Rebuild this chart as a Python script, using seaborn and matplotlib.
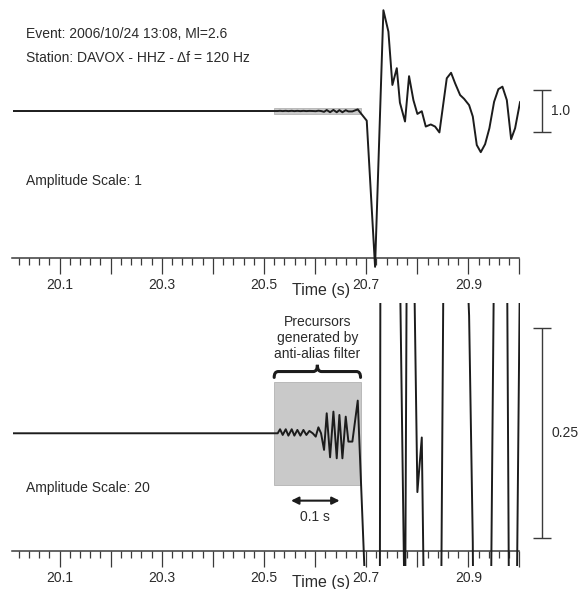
import numpy as np
import pandas as pd
import matplotlib.pyplot as plt
import seaborn as sns
from matplotlib.patches import Rectangle
from matplotlib.path import Path
from matplotlib.patches import PathPatch
from matplotlib.ticker import FixedLocator, FixedFormatter

# tempo (s) e amplitude
t_inicio = [20.008, 20.5269]
amp_inicio = [0.0, 0.0]

t_precursor = [20.5315, 20.5367, 20.5426, 20.5478, 20.5543, 20.5595, 20.5654, 20.5713,
               20.5772, 20.5830, 20.5889, 20.5954, 20.6013, 20.6065, 20.6117, 20.6176,
               20.6228, 20.6294, 20.6359, 20.6424, 20.6476, 20.6535, 20.6600, 20.6652,
               20.6730, 20.6835]
amp_precursor = [0.0048, -0.0020, 0.0048, -0.0028, 0.0048, -0.0028, 0.0040, -0.0028,
                 0.0040, -0.0020, 0.0028, 0.0, -0.0040, 0.0071, 0.0, -0.0198,
                 0.0238, -0.0286, 0.0258, -0.0298, 0.0218, -0.0298, 0.0198, -0.0099,
                 -0.0099, 0.0389]

t_sinal = [20.7011, 20.7174, 20.7337, 20.7435, 20.7513, 20.7599, 20.7660, 20.7760,
           20.7839, 20.7924, 20.8002, 20.8088, 20.8166, 20.8264, 20.8348, 20.8433,
           20.8577, 20.8661, 20.8740, 20.8838, 20.8916, 20.9014, 20.9086, 20.9164,
           20.9242, 20.9327, 20.9411, 20.9503, 20.9587, 20.9666, 20.9752, 20.9836,
           20.9914, 21.0012]
amp_sinal = [-0.23, -3.71, 2.40, 1.89, 0.62, 1.02, 0.20, -0.25,
             0.83, 0.26, -0.07, -0.005, -0.37, -0.32, -0.37, -0.51,
             0.78, 0.91, 0.66, 0.38, 0.29, 0.14, -0.13, -0.81,
             -0.98, -0.79, -0.41, 0.22, 0.52, 0.58, 0.26, -0.67,
             -0.41, 0.22]

ticks_maiores = [20.1, 20.2, 20.3, 20.4, 20.5, 20.6, 20.7, 20.8, 20.9, 21.0]
rotulos_ticks = ['20.1', '', '20.3', '', '20.5', '', '20.7', '', '20.9', '']
ticks_menores = [20.02, 20.04, 20.06, 20.08, 20.12, 20.14, 20.16, 20.18, 20.22, 20.24,
                 20.26, 20.28, 20.32, 20.34, 20.36, 20.38, 20.42, 20.44, 20.46, 20.48,
                 20.52, 20.54, 20.56, 20.58, 20.62, 20.64, 20.66, 20.68, 20.72, 20.74,
                 20.76, 20.78, 20.82, 20.84, 20.86, 20.88, 20.92, 20.94, 20.96, 20.98]

caixa_t = (20.520, 20.689)
caixa_amp = (-0.0615, 0.0615)

df = pd.DataFrame({
    'tempo': t_inicio + t_precursor + t_sinal,
    'amp': amp_inicio + amp_precursor + amp_sinal,
})

sns.set_style('white')
plt.rcParams['font.family'] = ['Liberation Sans', 'DejaVu Sans']
cor_linha = '#1c1c1c'
cor_texto = '#2b2b2b'
cor_eixo = '#3a3a3a'

W, H = 580, 589
fig = plt.figure(figsize=(5.8, 5.89), dpi=100)
# eixos definidos em pixels (esquerda, topo, largura, altura)
def eixo_px(x0, y0, w, h):
    return fig.add_axes([x0 / W, 1 - (y0 + h) / H, w / W, h / H])

ax_top = eixo_px(12.5, 0, 507, 272)
ax_bot = eixo_px(12.5, 303, 507, 263)

configs = [
    (ax_top, (-3.833, 2.643), -3.488, 0.5, '1.0', -4.262),
    (ax_bot, (-0.158, 0.1551), -0.1401, 0.125, '0.25', -0.1782),
]

for ax, ylim, y_eixo, meia_barra, rot_barra, y_time in configs:
    ax.add_patch(Rectangle((caixa_t[0], caixa_amp[0]), caixa_t[1] - caixa_t[0],
                           caixa_amp[1] - caixa_amp[0], facecolor='#c9c9c9',
                           edgecolor='#b3b3b3', lw=0.6, zorder=1))
    sns.lineplot(data=df, x='tempo', y='amp', ax=ax, color=cor_linha, lw=1.4,
                 estimator=None, sort=False, zorder=3)
    ax.set_xlim(20.008, 21.0)
    ax.set_ylim(*ylim)
    for s in ['top', 'left', 'right']:
        ax.spines[s].set_visible(False)
    ax.spines['bottom'].set_position(('data', y_eixo))
    ax.spines['bottom'].set_color(cor_eixo)
    ax.spines['bottom'].set_linewidth(1.1)
    ax.set_yticks([])
    ax.xaxis.set_major_locator(FixedLocator(ticks_maiores))
    ax.xaxis.set_major_formatter(FixedFormatter(rotulos_ticks))
    ax.xaxis.set_minor_locator(FixedLocator(ticks_menores))
    ax.tick_params(axis='x', which='both', bottom=True, direction='out', width=0.9,
                   color=cor_eixo)
    ax.tick_params(axis='x', which='major', length=11.5, labelsize=10,
                   labelcolor=cor_texto, pad=3.2)
    ax.tick_params(axis='x', which='minor', length=5)
    ax.set_xlabel('')
    ax.set_ylabel('')
    ax.text(20.6113, y_time, 'Time (s)', fontsize=11.5, color=cor_texto,
            ha='center', va='center')
    # barra de escala
    xb = 21.0436
    ax.vlines(xb, -meia_barra, meia_barra, color=cor_eixo, lw=1.0, clip_on=False)
    ax.hlines([-meia_barra, meia_barra], xb - 0.0176, xb + 0.0176, color=cor_eixo,
              lw=1.0, clip_on=False)
    ax.text(21.062, 0, rot_barra, fontsize=10, color=cor_texto, ha='left', va='center')

ax_top.text(20.0344, 1.826, 'Event: 2006/10/24 13:08, Ml=2.6', fontsize=10,
            color=cor_texto, ha='left', va='center')
ax_top.text(20.0344, 1.269, 'Station: DAVOX - HHZ - \u0394f = 120 Hz', fontsize=10,
            color=cor_texto, ha='left', va='center')
ax_top.text(20.0344, -1.667, 'Amplitude Scale: 1', fontsize=10, color=cor_texto,
            ha='left', va='center')
ax_bot.text(20.0344, -0.0655, 'Amplitude Scale: 20', fontsize=10, color=cor_texto,
            ha='left', va='center')

ax_bot.text(20.6045, 0.1136, 'Precursors\ngenerated by\nanti-alias filter', fontsize=10,
            color=cor_texto, ha='center', va='center', linespacing=1.2)

# chave sobre a caixa
x0, x1 = caixa_t
xm = (x0 + x1) / 2
d = 0.008
y_fim, y_base, y_ponta = 0.0665, 0.0735, 0.0815
verts = [(x0, y_fim), (x0, y_base), (x0 + d, y_base),
         (xm - d, y_base),
         (xm, y_base), (xm, y_ponta),
         (xm, y_base), (xm + d, y_base),
         (x1 - d, y_base),
         (x1, y_base), (x1, y_fim)]
codes = [Path.MOVETO, Path.CURVE3, Path.CURVE3, Path.LINETO, Path.CURVE3, Path.CURVE3,
         Path.CURVE3, Path.CURVE3, Path.LINETO, Path.CURVE3, Path.CURVE3]
ax_bot.add_patch(PathPatch(Path(verts, codes), facecolor='none', edgecolor=cor_linha,
                           lw=2.2, capstyle='round', clip_on=False))

ax_bot.annotate('', xy=(20.553, -0.0802), xytext=(20.648, -0.0802),
                arrowprops=dict(arrowstyle='<|-|>', color=cor_linha, lw=1.5,
                                mutation_scale=11, shrinkA=0, shrinkB=0))
ax_bot.text(20.6005, -0.0993, '0.1 s', fontsize=10, color=cor_texto,
            ha='center', va='center')

fig.savefig('out.png', dpi=100, facecolor='white')
